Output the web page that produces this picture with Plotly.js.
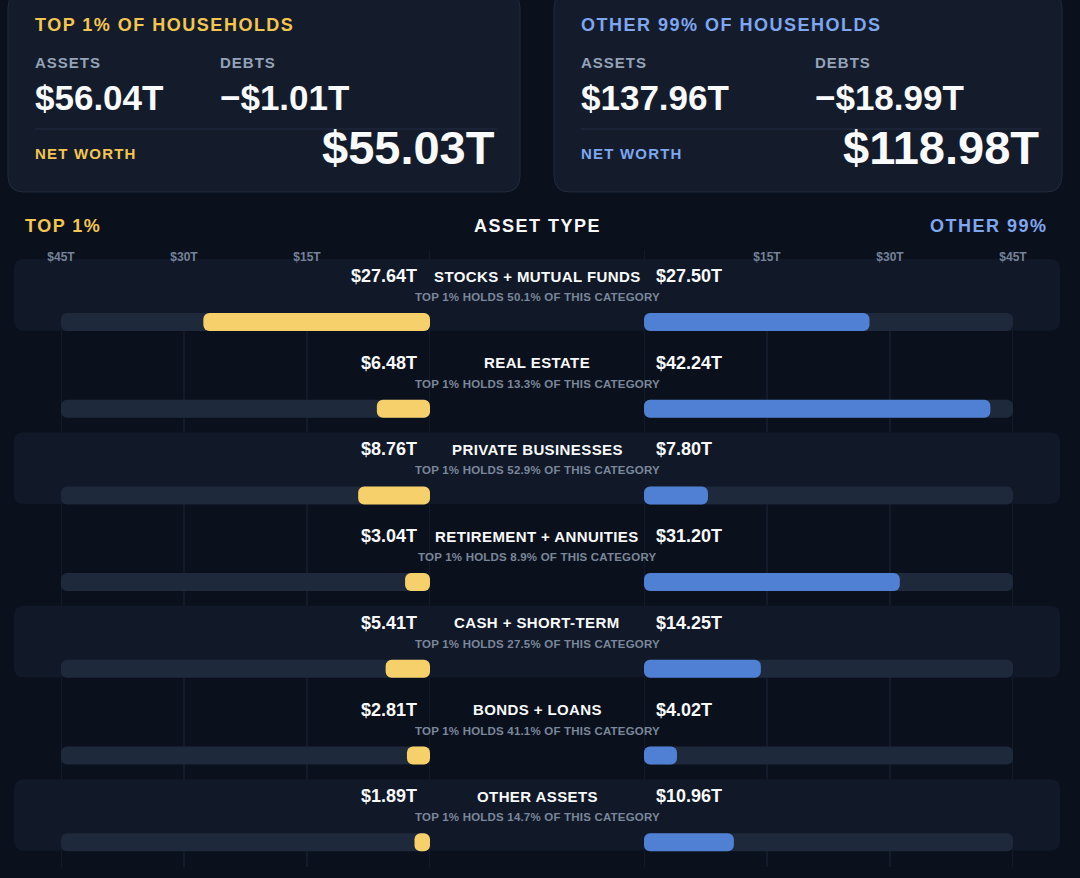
<!DOCTYPE html>
<html>
<head>
<meta charset="utf-8">
<script src="https://cdn.plot.ly/plotly-3.0.1.min.js"></script>
<style>
  html, body { margin: 0; padding: 0; background: #0b111c; }
  #chart { width: 1080px; height: 878px; }
</style>
</head>
<body>
<div id="chart"></div>
<script>
// Household assets by type: top 1% vs the other 99% (trillions of dollars)
const categories = [
  'STOCKS + MUTUAL FUNDS',
  'REAL ESTATE',
  'PRIVATE BUSINESSES',
  'RETIREMENT + ANNUITIES',
  'CASH + SHORT-TERM',
  'BONDS + LOANS',
  'OTHER ASSETS'
];
const top1Assets = [27.64, 6.48, 8.76, 3.04, 5.41, 2.81, 1.89];
const other99Assets = [27.50, 42.24, 7.80, 31.20, 14.25, 4.02, 10.96];

// Shared scale for both halves
const axisMax = 45;
const tickValues = [45, 30, 15, 0];
const tickLabels = ['$45T', '$30T', '$15T', ''];

// Summary cards
const groupNames = ['TOP 1% OF HOUSEHOLDS', 'OTHER 99% OF HOUSEHOLDS'];
const groupShortNames = ['TOP 1%', 'OTHER 99%'];
const groupAssets = [56.04, 137.96];
const groupDebts = [1.01, 18.99];
const groupNetWorth = [55.03, 118.98];

// ---- styling ----
const FONT = '"Liberation Sans", Arial, Helvetica, sans-serif';
const BG = '#0b111c';
const CARD_BG = '#141c2c';
const CARD_LINE = '#1f2a3c';
const BAND_BG = '#111827';
const TRACK = '#1e293b';
const GRID = '#1c2536';
const GOLD = '#f6d06a';
const GOLD_TEXT = '#f3c64f';
const BLUE = '#4f80d4';
const BLUE_TEXT = '#7fa7f0';
const MUTED = '#94a3b8';
const SUBTLE = '#7a879b';
const TICK = '#76829a';
const WHITE = '#f8fafc';

const W = 1080, H = 878;
const px = x => x / W;          // page pixel -> paper x
const py = y => 1 - y / H;      // page pixel -> paper y

// row geometry (rows are numbered 0..n-1 from the top)
const ROW_PX = 86.7;            // pixel height of one row
const FIRST_BAR_PX = 322;       // pixel centre of the first bar
const PLOT_TOP = 250, PLOT_BOTTOM = 867;
const rows = categories.map((_, i) => i);

const money = v => '$' + v.toFixed(2) + 'T';
const spaced = (t, ls) => `<span style="letter-spacing:${ls}px">${t}</span>`;
const font = (size, color) => ({ family: FONT, size: size, color: color, weight: 700 });

// rounded rectangle as an SVG path
function roundRect(x0, y0, x1, y1, rx, ry) {
  return `M${x0 + rx},${y0} L${x1 - rx},${y0} Q${x1},${y0} ${x1},${y0 + ry} ` +
         `L${x1},${y1 - ry} Q${x1},${y1} ${x1 - rx},${y1} L${x0 + rx},${y1} ` +
         `Q${x0},${y1} ${x0},${y1 - ry} L${x0},${y0 + ry} Q${x0},${y0} ${x0 + rx},${y0} Z`;
}
function pxRoundRect(x0, y0, x1, y1, r) {
  return roundRect(px(x0), py(y0), px(x1), py(y1), r / W, -r / H);
}

// ---- traces ----
// An explicit zero base makes Plotly round both ends of each bar (pill shape).
const barWidth = 18 / ROW_PX;
const zeroBase = rows.map(() => 0);
function pillBars(values, xaxis, color) {
  return {
    type: 'bar', orientation: 'h', y: rows, x: values, base: zeroBase, width: barWidth,
    xaxis: xaxis, yaxis: 'y', hoverinfo: 'skip',
    marker: { color: color, cornerradius: 6 }
  };
}
const fullTrack = rows.map(() => axisMax);

const traces = [
  pillBars(fullTrack, 'x', TRACK),
  pillBars(top1Assets, 'x', GOLD),
  pillBars(fullTrack, 'x2', TRACK),
  pillBars(other99Assets, 'x2', BLUE)
];

// ---- shapes ----
const shapes = [];

// summary cards
const cards = [
  { x0: 8, x1: 520, left: 35, debtX: 220, right: 494, title: GOLD_TEXT },
  { x0: 554, x1: 1062, left: 581, debtX: 815, right: 1038, title: BLUE_TEXT }
];
cards.forEach(c => {
  shapes.push({
    type: 'path', xref: 'paper', yref: 'paper', layer: 'below',
    path: pxRoundRect(c.x0, -8, c.x1, 192, 16),
    fillcolor: CARD_BG, line: { color: CARD_LINE, width: 1 }
  });
  shapes.push({
    type: 'line', xref: 'paper', yref: 'paper', layer: 'below',
    x0: px(c.left), x1: px(c.right + 3), y0: py(129), y1: py(129),
    line: { color: '#222d40', width: 1 }
  });
});

// vertical guides at each tick of both scales
['x', 'x2'].forEach(ax => {
  tickValues.forEach(v => {
    shapes.push({
      type: 'line', xref: ax, yref: 'paper', layer: 'below',
      x0: v, x1: v, y0: py(PLOT_BOTTOM), y1: py(PLOT_TOP),
      line: { color: GRID, width: 1 }
    });
  });
});

// alternating row bands
rows.filter(i => i % 2 === 0).forEach(i => {
  shapes.push({
    type: 'path', xref: 'paper', yref: 'y', layer: 'below',
    path: roundRect(px(14), i - 0.727, px(1060), i + 0.10, 10 / W, 10 / ROW_PX),
    fillcolor: BAND_BG, line: { width: 0 }
  });
});

// ---- annotations ----
const annotations = [];
const addText = (o) => annotations.push(Object.assign({ showarrow: false, xref: 'paper', yref: 'paper' }, o));

cards.forEach((c, g) => {
  addText({ x: px(c.left - 2), y: py(25), xanchor: 'left', yanchor: 'middle',
            text: spaced(groupNames[g], 1.5), font: font(18, c.title) });
  addText({ x: px(c.left - 2), y: py(63), xanchor: 'left', yanchor: 'middle',
            text: spaced('ASSETS', 1), font: font(15, MUTED) });
  addText({ x: px(c.debtX - 2), y: py(63), xanchor: 'left', yanchor: 'middle',
            text: spaced('DEBTS', 1), font: font(15, MUTED) });
  addText({ x: px(c.left - 2), y: py(97), xanchor: 'left', yanchor: 'middle',
            text: money(groupAssets[g]), font: font(35, WHITE) });
  addText({ x: px(c.debtX - 2), y: py(97), xanchor: 'left', yanchor: 'middle',
            text: '\u2212' + money(groupDebts[g]), font: font(35, WHITE) });
  addText({ x: px(c.left - 2), y: py(153), xanchor: 'left', yanchor: 'middle',
            text: spaced('NET WORTH', 1.2), font: font(15, c.title) });
  addText({ x: px(c.right + 3), y: py(147), xanchor: 'right', yanchor: 'middle',
            text: money(groupNetWorth[g]), font: font(47, WHITE) });
});

// column headers
addText({ x: px(23), y: py(226), xanchor: 'left', yanchor: 'middle',
          text: spaced(groupShortNames[0], 1.5), font: font(18, GOLD_TEXT) });
addText({ x: px(537), y: py(226), xanchor: 'center', yanchor: 'middle',
          text: spaced('ASSET TYPE', 1.5), font: font(18, WHITE) });
addText({ x: px(1050), y: py(226), xanchor: 'right', yanchor: 'middle',
          text: spaced(groupShortNames[1], 1.5), font: font(18, BLUE_TEXT) });

// per-row labels
const titleOffset = (276 - FIRST_BAR_PX) / ROW_PX;
const noteOffset = (297 - FIRST_BAR_PX) / ROW_PX;
categories.forEach((name, i) => {
  const a = top1Assets[i], b = other99Assets[i];
  const share = (a / (a + b) * 100).toFixed(1);
  addText({ x: px(537), yref: 'y', y: i + titleOffset, xanchor: 'center', yanchor: 'middle',
            text: spaced(name, 0.4), font: font(15, WHITE) });
  addText({ xref: 'x', x: 0, xshift: -11, yref: 'y', y: i + titleOffset, xanchor: 'right', yanchor: 'middle',
            text: money(a), font: font(18, WHITE) });
  addText({ xref: 'x2', x: 0, xshift: 10, yref: 'y', y: i + titleOffset, xanchor: 'left', yanchor: 'middle',
            text: money(b), font: font(18, WHITE) });
  addText({ x: px(537), yref: 'y', y: i + noteOffset, xanchor: 'center', yanchor: 'middle',
            text: spaced(`TOP 1% HOLDS ${share}% OF THIS CATEGORY`, 0.2), font: font(11.5, SUBTLE) });
});

// ---- axes ----
const xCommon = {
  anchor: 'y', side: 'top', ticklabelposition: 'inside', ticklabeloverflow: 'allow',
  tickmode: 'array', tickvals: tickValues, ticktext: tickLabels,
  ticks: '', showgrid: false, zeroline: false, showline: false, fixedrange: true,
  tickfont: font(12, TICK)
};

const layout = {
  width: W, height: H,
  margin: { l: 0, r: 0, t: 0, b: 0 },
  paper_bgcolor: BG, plot_bgcolor: 'rgba(0,0,0,0)',
  showlegend: false, barmode: 'overlay', barcornerradius: 6, hovermode: false,
  xaxis: Object.assign({}, xCommon, { domain: [px(61), px(430)], range: [axisMax, 0] }),
  xaxis2: Object.assign({}, xCommon, { domain: [px(644), px(1013)], range: [0, axisMax] }),
  yaxis: {
    domain: [py(PLOT_BOTTOM), py(PLOT_TOP)],
    range: [(PLOT_BOTTOM - FIRST_BAR_PX) / ROW_PX, (PLOT_TOP - FIRST_BAR_PX) / ROW_PX],
    showticklabels: false, showgrid: false, zeroline: false, showline: false, fixedrange: true
  },
  shapes: shapes,
  annotations: annotations
};

Plotly.newPlot('chart', traces, layout, { displayModeBar: false, staticPlot: true });
</script>
</body>
</html>
